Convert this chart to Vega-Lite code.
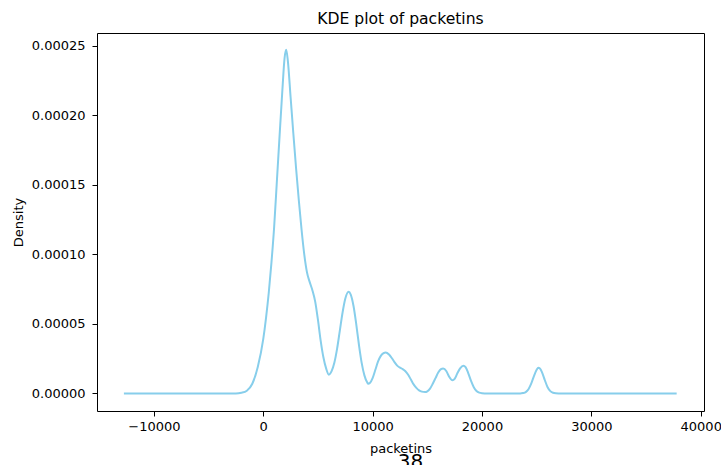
{
  "$schema": "https://vega.github.io/schema/vega-lite/v6.json",
  "width": 607,
  "height": 378,
  "autosize": "none",
  "padding": {"left": 97, "top": 33, "right": 17, "bottom": 54},
  "background": "white",
  "title": {
    "text": "KDE plot of packetins",
    "font": "DejaVu Sans",
    "fontSize": 15.6,
    "fontWeight": "normal",
    "color": "#000000",
    "anchor": "middle",
    "offset": 5
  },
  "config": {
    "view": {"stroke": "#000000", "strokeWidth": 1},
    "axis": {
      "labelFont": "DejaVu Sans",
      "titleFont": "DejaVu Sans",
      "labelFontSize": 13,
      "titleFontSize": 13,
      "titleFontWeight": "normal",
      "labelColor": "#000000",
      "titleColor": "#000000",
      "tickColor": "#000000",
      "tickSize": 5,
      "grid": false,
      "domain": false
    }
  },
  "layer": [
    {
      "data": {
        "values": [
          {"packetins": -12740, "density": 0},
          {"packetins": -8000, "density": 0},
          {"packetins": -4000, "density": 0},
          {"packetins": -2500, "density": 0},
          {"packetins": -2000, "density": 0.0000005},
          {"packetins": -1500, "density": 0.000002},
          {"packetins": -1000, "density": 0.000007},
          {"packetins": -500, "density": 0.000019},
          {"packetins": 0, "density": 0.000039},
          {"packetins": 250, "density": 0.000054},
          {"packetins": 500, "density": 0.000072},
          {"packetins": 750, "density": 0.000094},
          {"packetins": 1000, "density": 0.00012},
          {"packetins": 1250, "density": 0.000153},
          {"packetins": 1500, "density": 0.000186},
          {"packetins": 1750, "density": 0.000218},
          {"packetins": 1950, "density": 0.000241},
          {"packetins": 2100, "density": 0.000247},
          {"packetins": 2250, "density": 0.000239},
          {"packetins": 2500, "density": 0.000213},
          {"packetins": 2750, "density": 0.000187},
          {"packetins": 3000, "density": 0.000162},
          {"packetins": 3250, "density": 0.000139},
          {"packetins": 3500, "density": 0.000118},
          {"packetins": 3750, "density": 0.0001},
          {"packetins": 4000, "density": 0.000087},
          {"packetins": 4250, "density": 0.00008},
          {"packetins": 4500, "density": 0.000074},
          {"packetins": 4750, "density": 0.000066},
          {"packetins": 5000, "density": 0.000053},
          {"packetins": 5250, "density": 0.000038},
          {"packetins": 5500, "density": 0.000026},
          {"packetins": 5750, "density": 0.000018},
          {"packetins": 6000, "density": 0.0000135},
          {"packetins": 6250, "density": 0.000016},
          {"packetins": 6500, "density": 0.000022},
          {"packetins": 6750, "density": 0.000032},
          {"packetins": 7000, "density": 0.000045},
          {"packetins": 7250, "density": 0.000058},
          {"packetins": 7500, "density": 0.000068},
          {"packetins": 7800, "density": 0.000073},
          {"packetins": 8000, "density": 0.000071},
          {"packetins": 8250, "density": 0.000063},
          {"packetins": 8500, "density": 0.00005},
          {"packetins": 8750, "density": 0.000035},
          {"packetins": 9000, "density": 0.000022},
          {"packetins": 9250, "density": 0.000013},
          {"packetins": 9500, "density": 0.000008},
          {"packetins": 9600, "density": 0.000007},
          {"packetins": 9750, "density": 0.0000075},
          {"packetins": 10000, "density": 0.000011},
          {"packetins": 10250, "density": 0.000017},
          {"packetins": 10500, "density": 0.000023},
          {"packetins": 10750, "density": 0.000027},
          {"packetins": 11000, "density": 0.000029},
          {"packetins": 11200, "density": 0.0000295},
          {"packetins": 11500, "density": 0.000028},
          {"packetins": 11750, "density": 0.0000255},
          {"packetins": 12000, "density": 0.0000225},
          {"packetins": 12250, "density": 0.00002},
          {"packetins": 12500, "density": 0.0000185},
          {"packetins": 12750, "density": 0.0000175},
          {"packetins": 13000, "density": 0.000016},
          {"packetins": 13250, "density": 0.0000135},
          {"packetins": 13500, "density": 0.00001},
          {"packetins": 13750, "density": 0.0000065},
          {"packetins": 14000, "density": 0.000004},
          {"packetins": 14250, "density": 0.0000022},
          {"packetins": 14500, "density": 0.0000013},
          {"packetins": 14800, "density": 0.000001},
          {"packetins": 15000, "density": 0.0000015},
          {"packetins": 15250, "density": 0.0000035},
          {"packetins": 15500, "density": 0.000007},
          {"packetins": 15750, "density": 0.000011},
          {"packetins": 16000, "density": 0.000015},
          {"packetins": 16250, "density": 0.0000175},
          {"packetins": 16450, "density": 0.000018},
          {"packetins": 16750, "density": 0.000016},
          {"packetins": 17000, "density": 0.000012},
          {"packetins": 17300, "density": 0.0000095},
          {"packetins": 17500, "density": 0.0000105},
          {"packetins": 17750, "density": 0.0000145},
          {"packetins": 18000, "density": 0.000018},
          {"packetins": 18300, "density": 0.00002},
          {"packetins": 18500, "density": 0.000019},
          {"packetins": 18750, "density": 0.0000145},
          {"packetins": 19000, "density": 0.000009},
          {"packetins": 19250, "density": 0.0000045},
          {"packetins": 19500, "density": 0.0000018},
          {"packetins": 19750, "density": 0.0000006},
          {"packetins": 20000, "density": 0.0000002},
          {"packetins": 20500, "density": 0},
          {"packetins": 23500, "density": 0},
          {"packetins": 23750, "density": 0.0000003},
          {"packetins": 24000, "density": 0.000001},
          {"packetins": 24250, "density": 0.000003},
          {"packetins": 24500, "density": 0.000007},
          {"packetins": 24750, "density": 0.0000125},
          {"packetins": 25000, "density": 0.000017},
          {"packetins": 25150, "density": 0.0000185},
          {"packetins": 25300, "density": 0.000018},
          {"packetins": 25500, "density": 0.000015},
          {"packetins": 25750, "density": 0.0000095},
          {"packetins": 26000, "density": 0.0000045},
          {"packetins": 26250, "density": 0.0000017},
          {"packetins": 26500, "density": 0.0000005},
          {"packetins": 26750, "density": 0.0000001},
          {"packetins": 27000, "density": 0},
          {"packetins": 37800, "density": 0}
        ]
      },
      "mark": {"type": "line", "color": "#87CEEB", "strokeWidth": 2, "interpolate": "monotone"},
      "encoding": {
        "x": {
          "field": "packetins",
          "type": "quantitative",
          "scale": {"domain": [-15200, 40300], "nice": false, "zero": false},
          "axis": {
            "title": "packetins",
            "values": [-10000, 0, 10000, 20000, 30000, 40000],
            "format": "d",
            "labelPadding": 4,
            "titlePadding": 9
          }
        },
        "y": {
          "field": "density",
          "type": "quantitative",
          "scale": {"domain": [-0.0000126, 0.000259], "nice": false, "zero": false},
          "axis": {
            "title": "Density",
            "values": [0, 0.00005, 0.0001, 0.00015, 0.0002, 0.00025],
            "format": ".5f",
            "labelPadding": 7,
            "titlePadding": 6
          }
        }
      }
    },
    {
      "data": {"values": [{"label": "38"}]},
      "mark": {"type": "text", "font": "DejaVu Sans", "fontSize": 20, "color": "#000000", "baseline": "alphabetic", "align": "center"},
      "encoding": {
        "x": {"datum": 13460, "type": "quantitative"},
        "y": {"datum": -0.0000535, "type": "quantitative"},
        "text": {"field": "label"}
      }
    }
  ]
}
